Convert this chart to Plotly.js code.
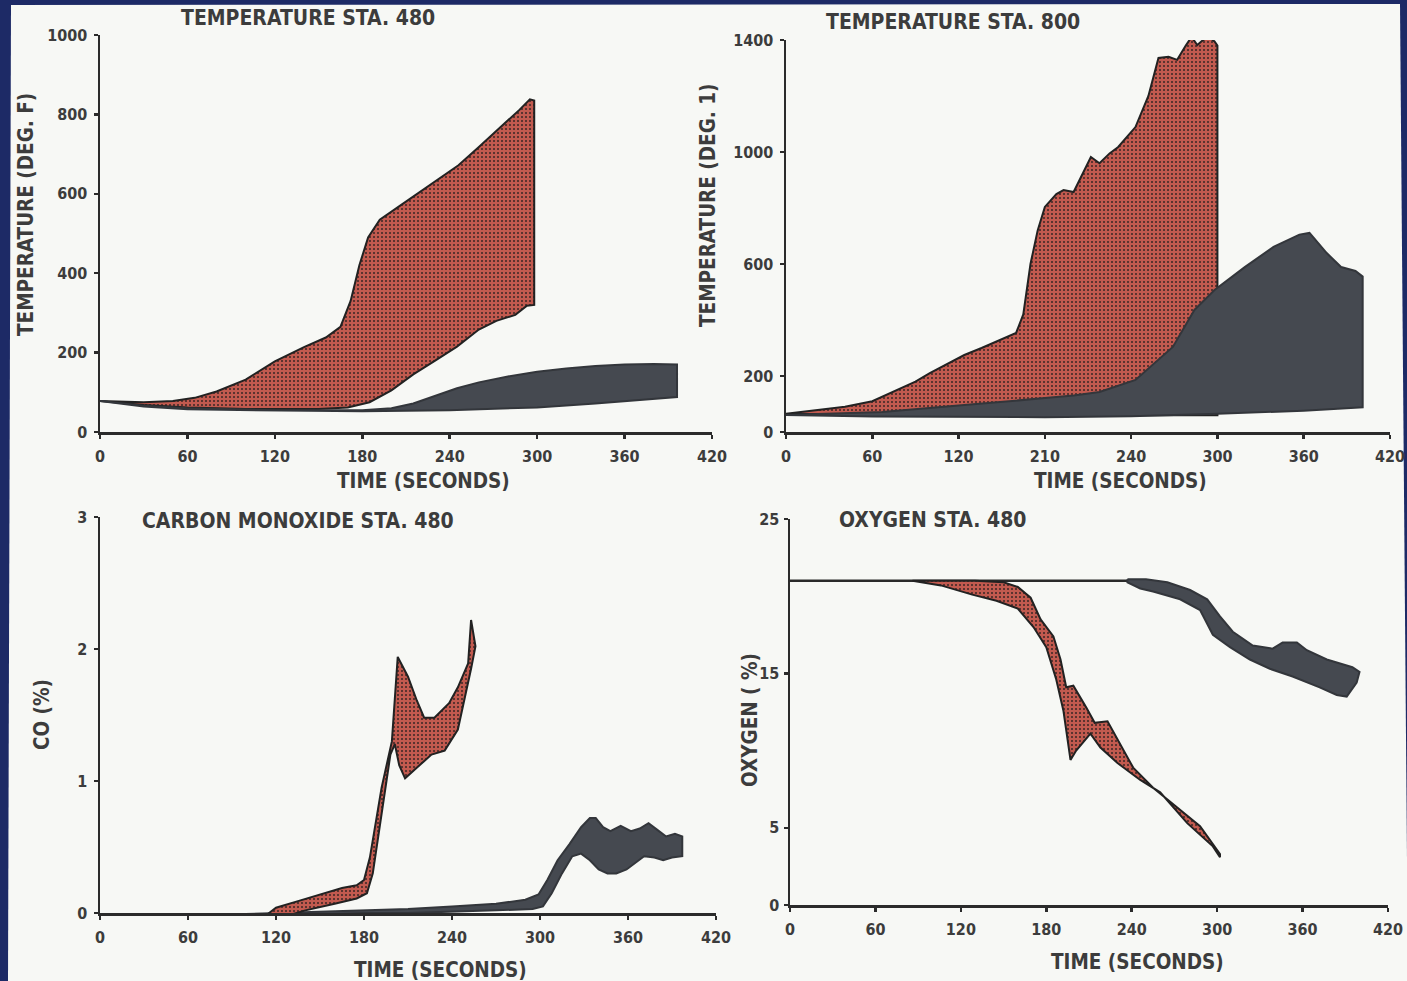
<!DOCTYPE html>
<html>
<head>
<meta charset="utf-8">
<script src="https://cdn.plot.ly/plotly-3.0.1.min.js"></script>
<style>
  html, body { margin: 0; padding: 0; background: #1d2a66; }
  #chart { width: 1407px; height: 981px; }
</style>
</head>
<body>
<div id="chart"></div>
<script>
// ---------- Panel 1: TEMPERATURE STA. 480 (deg F) ----------
const t480RedUpperT = [0, 30, 50, 65, 80, 100, 120, 140, 155, 165, 172, 178, 184, 192, 204, 218, 232, 246, 260, 275, 288, 295, 298];
const t480RedUpperV = [78, 75, 78, 86, 102, 132, 178, 214, 238, 265, 330, 420, 490, 535, 565, 600, 635, 672, 718, 768, 812, 838, 835];
const t480RedLowerT = [0, 30, 60, 100, 150, 170, 185, 200, 215, 230, 245, 260, 272, 285, 293, 298];
const t480RedLowerV = [78, 68, 62, 58, 58, 62, 75, 105, 145, 180, 215, 258, 280, 295, 318, 320];
const t480BlkUpperT = [0, 30, 60, 120, 180, 200, 215, 230, 245, 260, 280, 300, 320, 340, 360, 380, 396];
const t480BlkUpperV = [78, 66, 60, 55, 55, 60, 72, 92, 110, 125, 140, 152, 160, 166, 170, 171, 170];
const t480BlkLowerT = [0, 30, 60, 120, 180, 240, 300, 340, 370, 396];
const t480BlkLowerV = [78, 64, 57, 54, 52, 55, 62, 72, 80, 88];

// ---------- Panel 2: TEMPERATURE STA. 800 ----------
const t800RedUpperT = [0, 20, 41, 60, 73, 90, 100, 115, 124, 136, 150, 160, 165, 170, 175, 180, 188, 193, 200, 206, 212, 218, 225, 231, 243, 252, 259, 266, 272, 278, 282, 286, 290, 294, 298, 300];
const t800RedUpperV = [65, 78, 90, 110, 140, 180, 210, 250, 275, 300, 330, 354, 420, 600, 720, 804, 850, 864, 857, 920, 982, 960, 995, 1018, 1089, 1200, 1336, 1340, 1329, 1380, 1411, 1382, 1400, 1411, 1395, 1380];
const t800RedLowerT = [0, 150, 300];
const t800RedLowerV = [65, 60, 60];
const t800BlkUpperT = [0, 67, 124, 161, 180, 200, 218, 243, 255, 269, 284, 298, 319, 339, 357, 364, 376, 386, 396, 401];
const t800BlkUpperV = [61, 71, 96, 114, 121, 130, 143, 186, 240, 304, 436, 507, 589, 661, 705, 711, 639, 589, 575, 555];
const t800BlkLowerT = [0, 60, 120, 180, 240, 300, 360, 401];
const t800BlkLowerV = [61, 55, 53, 53, 56, 65, 76, 88];
const t800XTickText = ['0', '60', '120', '210', '240', '300', '360', '420'];

// ---------- Panel 3: CARBON MONOXIDE STA. 480 (%) ----------
const coRedUpperT = [113, 120, 135, 150, 165, 175, 180, 184, 188, 192, 196, 199, 203, 210, 216, 221, 228, 238, 244, 251, 253];
const coRedUpperV = [-0.02, 0.04, 0.09, 0.14, 0.19, 0.21, 0.25, 0.42, 0.7, 0.95, 1.15, 1.3, 1.94, 1.79, 1.61, 1.48, 1.48, 1.59, 1.71, 1.89, 2.22];
const coRedLowerT = [113, 125, 140, 160, 175, 182, 186, 190, 194, 198, 201, 204, 208, 214, 219, 226, 235, 244, 253, 256];
const coRedLowerV = [-0.05, -0.03, 0.02, 0.07, 0.11, 0.15, 0.3, 0.6, 0.9, 1.2, 1.28, 1.12, 1.02, 1.08, 1.13, 1.2, 1.23, 1.39, 1.85, 2.02];
const coBlkUpperT = [92, 120, 150, 180, 210, 240, 270, 290, 299, 305, 312, 320, 328, 334, 338, 343, 348, 355, 362, 368, 374, 380, 386, 392, 397];
const coBlkUpperV = [-0.01, 0.0, 0.01, 0.02, 0.03, 0.05, 0.07, 0.1, 0.14, 0.25, 0.4, 0.52, 0.65, 0.72, 0.72, 0.65, 0.62, 0.66, 0.62, 0.64, 0.68, 0.63, 0.58, 0.6, 0.58];
const coBlkLowerT = [92, 120, 150, 180, 210, 240, 270, 295, 302, 308, 315, 322, 328, 334, 340, 346, 352, 359, 365, 371, 378, 384, 390, 397];
const coBlkLowerV = [-0.03, -0.02, -0.01, 0.0, 0.0, 0.01, 0.02, 0.03, 0.05, 0.15, 0.3, 0.43, 0.45, 0.4, 0.33, 0.3, 0.3, 0.33, 0.38, 0.43, 0.42, 0.4, 0.42, 0.43];

// ---------- Panel 4: OXYGEN STA. 480 (%) ----------
const o2AmbientT = [0, 240];
const o2AmbientV = [21, 21];
const o2RedUpperT = [86, 130, 150, 160, 169, 176, 185, 190, 194, 199, 208, 214, 223, 229, 241, 255, 272, 288, 302];
const o2RedUpperV = [21, 21, 20.9, 20.6, 19.9, 18.5, 17.4, 15.9, 14.1, 14.2, 12.8, 11.8, 11.9, 10.9, 8.9, 7.6, 6.3, 5.1, 3.3];
const o2RedLowerT = [86, 106, 128, 145, 160, 171, 180, 187, 192, 197, 201, 211, 218, 230, 246, 260, 279, 297, 302];
const o2RedLowerV = [21, 20.7, 20.1, 19.7, 19.2, 18.0, 16.7, 14.6, 12.6, 9.4, 10.0, 11.1, 10.2, 9.2, 8.1, 7.3, 5.3, 3.8, 3.1];
const o2BlkUpperT = [237, 250, 265, 281, 293, 302, 311, 325, 339, 346, 356, 363, 377, 395, 400];
const o2BlkUpperV = [21.1, 21.1, 20.9, 20.4, 19.8, 18.7, 17.7, 16.8, 16.6, 17.0, 17.0, 16.5, 15.9, 15.4, 15.1];
const o2BlkLowerT = [237, 246, 255, 274, 288, 297, 309, 323, 337, 353, 372, 384, 391, 398, 400];
const o2BlkLowerV = [20.9, 20.5, 20.3, 19.8, 19.1, 17.5, 16.7, 15.9, 15.3, 14.8, 14.1, 13.6, 13.5, 14.4, 15.1];

// ---------- Axis tick values ----------
const timeTicks = [0, 60, 120, 180, 240, 300, 360, 420];
const temp480Ticks = [0, 200, 400, 600, 800, 1000];
const temp800Ticks = [0, 200, 600, 1000, 1400];
const coTicks = [0, 1, 2, 3];
const o2Ticks = [0, 5, 15, 25];

// ---------- styling ----------
const W = 1407, H = 981;
const FONT = 'DejaVu Sans Condensed, Liberation Sans Narrow, Arial Narrow, sans-serif';
const INK = '#2b2b2b';
const TXT = '#3c3c3c';
const RED = '#c25a4f';
const BLK = '#454950';

function band(ut, uv, lt, lv, kind, xa, ya) {
  const x = ut.concat(lt.slice().reverse());
  const y = uv.concat(lv.slice().reverse());
  x.push(ut[0]); y.push(uv[0]);
  const tr = {
    type: 'scatter', mode: 'lines', x: x, y: y, xaxis: xa, yaxis: ya,
    fill: 'toself', hoverinfo: 'skip', showlegend: false,
    line: { color: '#222222', width: 2, shape: 'linear' }
  };
  if (kind === 'red') {
    tr.fillcolor = RED;
    tr.fillpattern = { shape: '.', bgcolor: RED, fgcolor: '#3a2624', size: 4, solidity: 0.2 };
  } else {
    tr.fillcolor = BLK;
    tr.line.color = '#33363b';
  }
  return tr;
}

const traces = [
  band(t480RedUpperT, t480RedUpperV, t480RedLowerT, t480RedLowerV, 'red', 'x', 'y'),
  band(t480BlkUpperT, t480BlkUpperV, t480BlkLowerT, t480BlkLowerV, 'blk', 'x', 'y'),
  band(t800RedUpperT, t800RedUpperV, t800RedLowerT, t800RedLowerV, 'red', 'x2', 'y2'),
  band(t800BlkUpperT, t800BlkUpperV, t800BlkLowerT, t800BlkLowerV, 'blk', 'x2', 'y2'),
  band(coBlkUpperT, coBlkUpperV, coBlkLowerT, coBlkLowerV, 'blk', 'x3', 'y3'),
  band(coRedUpperT, coRedUpperV, coRedLowerT, coRedLowerV, 'red', 'x3', 'y3'),
  { type: 'scatter', mode: 'lines', x: o2AmbientT, y: o2AmbientV, xaxis: 'x4', yaxis: 'y4',
    line: { color: '#2a2a2a', width: 2.5 }, hoverinfo: 'skip', showlegend: false },
  band(o2BlkUpperT, o2BlkUpperV, o2BlkLowerT, o2BlkLowerV, 'blk', 'x4', 'y4'),
  band(o2RedUpperT, o2RedUpperV, o2RedLowerT, o2RedLowerV, 'red', 'x4', 'y4')
];

function px(x) { return x / W; }
function py(y) { return 1 - y / H; }

function xAxis(dom, anchor, ticktext) {
  const a = {
    domain: [px(dom[0]), px(dom[1])], range: [0, 420], anchor: anchor,
    showline: true, linecolor: INK, linewidth: 2.5, showgrid: false, zeroline: false,
    ticks: 'outside', ticklen: 4, tickwidth: 2.5, tickcolor: INK,
    tickvals: timeTicks, ticklabelstandoff: 4,
    tickfont: { family: FONT, size: 16, color: TXT, weight: 'bold' },
    fixedrange: true
  };
  if (ticktext) a.ticktext = ticktext;
  return a;
}
function yAxis(dom, anchor, range, ticks, standoff) {
  return {
    domain: [py(dom[1]), py(dom[0])], range: range, anchor: anchor,
    showline: true, linecolor: INK, linewidth: 2.5, showgrid: false, zeroline: false,
    ticks: 'outside', ticklen: 4, tickwidth: 2.5, tickcolor: INK,
    tickvals: ticks, ticklabelstandoff: standoff === undefined ? 3 : standoff,
    tickfont: { family: FONT, size: 16, color: TXT, weight: 'bold' },
    fixedrange: true
  };
}

function label(text, x, y, size, angle) {
  return {
    text: text, xref: 'paper', yref: 'paper', x: px(x), y: py(y),
    xanchor: 'center', yanchor: 'middle', showarrow: false, textangle: angle || 0,
    font: { family: FONT, size: size, color: TXT, weight: 'bold' }
  };
}
function arrow(xa, ya) {
  return {
    xref: xa, yref: ya, x: 427, y: 0, ax: -16, ay: 0, axref: 'pixel', ayref: 'pixel',
    text: '', showarrow: true, arrowhead: 2, arrowsize: 1, arrowwidth: 2.5, arrowcolor: INK
  };
}

const layout = {
  width: W, height: H, autosize: false,
  margin: { l: 0, r: 0, t: 0, b: 0 },
  paper_bgcolor: '#1d2a66', plot_bgcolor: 'rgba(0,0,0,0)',
  showlegend: false,
  xaxis: xAxis([100, 712], 'y'),
  yaxis: yAxis([35, 432], 'x', [0, 1000], temp480Ticks),
  xaxis2: xAxis([786, 1390], 'y2', t800XTickText),
  yaxis2: yAxis([40, 432], 'x2', [0, 1400], temp800Ticks),
  xaxis3: xAxis([100, 716], 'y3'),
  yaxis3: yAxis([517, 913], 'x3', [0, 3], coTicks),
  xaxis4: xAxis([790, 1388], 'y4'),
  yaxis4: yAxis([519, 905], 'x4', [0, 25], o2Ticks, 1),
  shapes: [{
    type: 'path', xref: 'paper', yref: 'paper', layer: 'below',
    path: 'M ' + px(11) + ',' + py(5) + ' L ' + px(1400) + ',' + py(4) +
          ' L ' + px(1408) + ',' + py(982) + ' L ' + px(8) + ',' + py(982) + ' Z',
    fillcolor: '#f7f8f5', line: { width: 0 }
  }],
  annotations: [
    label('TEMPERATURE STA. 480', 308, 18, 21),
    label('TEMPERATURE STA. 800', 953, 22, 21),
    label('CARBON MONOXIDE STA. 480', 298, 521, 21),
    label('OXYGEN STA. 480', 933, 520, 21),
    label('TIME (SECONDS)', 423, 481, 20.5),
    label('TIME (SECONDS)', 1120, 481, 20.5),
    label('TIME (SECONDS)', 440, 970, 20.5),
    label('TIME (SECONDS)', 1137, 962, 20.5),
    label('TEMPERATURE (DEG. F)', 26, 215, 20.5, -90),
    label('TEMPERATURE (DEG. 1)', 708, 205, 20.5, -90),
    label('CO (%)', 42, 715, 20.5, -90),
    label('OXYGEN ( %)', 750, 720, 20.5, -90),
    arrow('x', 'y'), arrow('x2', 'y2'), arrow('x3', 'y3'), arrow('x4', 'y4')
  ]
};

Plotly.newPlot('chart', traces, layout, { displayModeBar: false, staticPlot: true });
</script>
</body>
</html>
